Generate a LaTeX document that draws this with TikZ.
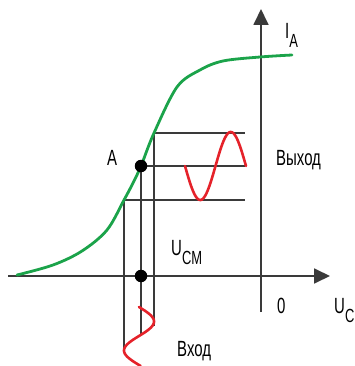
\documentclass[tikz,border=0pt]{standalone}
\usepackage{fontspec}
\setmainfont[FakeStretch=0.68]{Liberation Sans}
\usetikzlibrary{arrows.meta}
\definecolor{curvegreen}{HTML}{1BA34A}
\definecolor{sigred}{HTML}{E5222A}
\definecolor{axisgray}{HTML}{3A3A3A}
\newcommand\lblsub[1]{\raisebox{-9pt}{\fontsize{19}{19}\selectfont #1}}
\tikzset{
  axisline/.style={draw=axisgray, line width=1.8pt, -{Triangle[length=16pt,width=15pt]}},
  guide/.style={draw=axisgray, line width=1.2pt},
  greencurve/.style={draw=curvegreen, line width=2.8pt, line cap=round},
  redwave/.style={draw=sigred, line width=2.6pt, line cap=round},
  dotmark/.style={circle, fill=black, inner sep=0pt, minimum size=12.5pt},
  lbl/.style={inner sep=0pt, anchor=base west, font=\fontsize{22}{22}\selectfont}
}
\begin{document}
\begin{tikzpicture}[x=1pt, y=-1pt]
\useasboundingbox (0,0) rectangle (354,366);
% axes
\coordinate (xs) at (8,276);
\coordinate (xe) at (330,276);
\coordinate (ys) at (261,312);
\coordinate (ye) at (261,9);
\draw[axisline] (xs) -- (xe);
\draw[axisline] (ys) -- (ye);
% key points
\coordinate (top) at (154,133);
\coordinate (mid) at (141,166);
\coordinate (bot) at (124,200);
\coordinate (topR) at (245,133);
\coordinate (midR) at (245,166);
\coordinate (botR) at (245,200);
\coordinate (topD) at (154,326);
\coordinate (midD) at (141,335);
\coordinate (botD) at (124,350);
\coordinate (q) at (141,276);
% guides
\draw[guide] (top) -- (topR);
\draw[guide] (mid) -- (midR);
\draw[guide] (bot) -- (botR);
\draw[guide] (top) -- (topD);
\draw[guide] (mid) -- (midD);
\draw[guide] (bot) -- (botD);
% green characteristic
\draw[greencurve] plot[smooth, tension=0.55] coordinates {(17,275) (53,265) (82,251) (107,230) (bot) (133,183) (mid) (top) (177,87) (200,70) (223,61) (260,57) (292,55)};
% red waves
\draw[redwave] plot[domain=185:246, samples=80] (\x, {166+34*sin((\x-185)*5.9016)});
\draw[redwave] plot[domain=307:366, samples=80] ({139+15*sin((\x-307)*6.2069)}, \x);
% dots
\node[dotmark] (A) at (mid) {};
\node[dotmark] (Q) at (q) {};
% labels
\node[lbl] (lA) at (107,165) {A};
\node[lbl] (lIA) at (285,39) {I\lblsub{A}};
\node[lbl] (lout) at (276,165) {Выход};
\node[lbl] (lucm) at (171,255) {U\lblsub{CM}};
\node[lbl] (lzero) at (277,313) {0};
\node[lbl] (luc) at (334,313) {U\lblsub{C}};
\node[lbl] (lin) at (177,356) {Вход};
\end{tikzpicture}
\end{document}
